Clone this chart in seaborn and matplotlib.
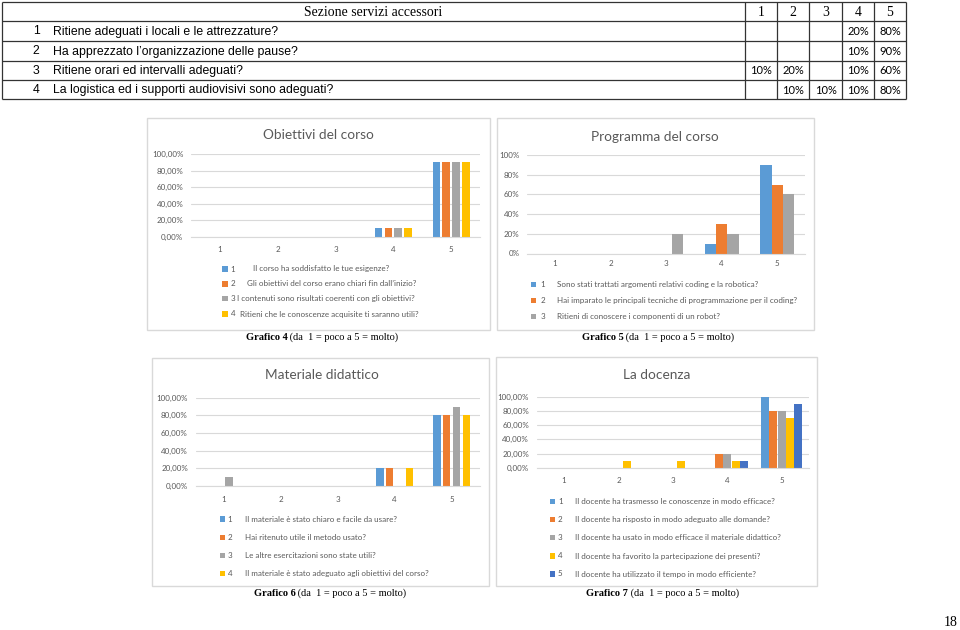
import numpy as np
import pandas as pd
import matplotlib
matplotlib.use("Agg")
import matplotlib.pyplot as plt
from matplotlib.patches import Rectangle
from matplotlib.ticker import FuncFormatter
import seaborn as sns

sns.set_style("white")
plt.rcParams['font.family'] = ['Lato', 'DejaVu Sans']

# ---------------- data ----------------
table_header = "Sezione servizi accessori"
table_cols = ["1", "2", "3", "4", "5"]
table_questions = [
    "Ritiene adeguati i locali e le attrezzature?",
    "Ha apprezzato l’organizzazione delle pause?",
    "Ritiene orari ed intervalli adeguati?",
    "La logistica ed i supporti audiovisivi sono adeguati?",
]
table_values = [
    [None, None, None, 20, 80],
    [None, None, None, 10, 90],
    [10, 20, None, 10, 60],
    [None, 10, 10, 10, 80],
]

categories = ["1", "2", "3", "4", "5"]

obiettivi_title = "Obiettivi del corso"
obiettivi_questions = [
    "Il corso ha soddisfatto le tue esigenze?",
    "Gli obiettivi del corso erano chiari fin dall’inizio?",
    "I contenuti sono risultati coerenti con gli obiettivi?",
    "Ritieni che le conoscenze acquisite ti saranno utili?",
]
obiettivi_values = [
    [0, 0, 0, 0.10, 0.90],
    [0, 0, 0, 0.10, 0.90],
    [0, 0, 0, 0.10, 0.90],
    [0, 0, 0, 0.10, 0.90],
]

programma_title = "Programma del corso"
programma_questions = [
    "Sono stati trattati argomenti relativi coding e la robotica?",
    "Hai imparato le principali tecniche di programmazione per il coding?",
    "Ritieni di conoscere i componenti di un robot?",
]
programma_values = [
    [0, 0, 0, 0.10, 0.90],
    [0, 0, 0, 0.30, 0.70],
    [0, 0, 0.20, 0.20, 0.60],
]

materiale_title = "Materiale didattico"
materiale_questions = [
    "Il materiale è stato chiaro e facile da usare?",
    "Hai ritenuto utile il metodo usato?",
    "Le altre esercitazioni sono state utili?",
    "Il materiale è stato adeguato agli obiettivi del corso?",
]
materiale_values = [
    [0, 0, 0, 0.20, 0.80],
    [0, 0, 0, 0.20, 0.80],
    [0.10, 0, 0, 0, 0.90],
    [0, 0, 0, 0.20, 0.80],
]

docenza_title = "La docenza"
docenza_questions = [
    "Il docente ha trasmesso le conoscenze in modo efficace?",
    "Il docente ha risposto in modo adeguato alle domande?",
    "Il docente ha usato in modo efficace il materiale didattico?",
    "Il docente ha favorito la partecipazione dei presenti?",
    "Il docente ha utilizzato il tempo in modo efficiente?",
]
docenza_values = [
    [0, 0, 0, 0, 1.00],
    [0, 0, 0, 0.20, 0.80],
    [0, 0, 0, 0.20, 0.80],
    [0, 0.10, 0.10, 0.10, 0.70],
    [0, 0, 0, 0.10, 0.90],
]

captions = ["Grafico 4", "Grafico 5", "Grafico 6", "Grafico 7"]
caption_rest = " (da  1 = poco a 5 = molto)"
page_number = "18"

palette = ["#5B9BD5", "#ED7D31", "#A5A5A5", "#FFC000", "#4472C4"]
TXT = "#595959"
GRID = "#D9D9D9"

W, H = 960, 630
fig = plt.figure(figsize=(9.6, 6.3), dpi=100)
fig.patch.set_facecolor("white")

ov = fig.add_axes([0, 0, 1, 1])
ov.set_xlim(0, W)
ov.set_ylim(H, 0)
ov.axis("off")

# ---------------- table ----------------
col_x = [2, 745, 777, 809, 842, 874, 906]
row_y = [2, 21, 41, 61, 80, 99]
lc = "#333333"
for y in row_y:
    ov.plot([col_x[0], col_x[-1]], [y, y], color=lc, lw=0.9, solid_capstyle="butt")
for x in col_x:
    ov.plot([x, x], [row_y[0], row_y[-1]], color=lc, lw=0.9, solid_capstyle="butt")

serif = ["Liberation Serif", "DejaVu Serif"]
sans = ["Liberation Sans", "DejaVu Sans"]
ov.text((col_x[0] + col_x[1]) / 2, (row_y[0] + row_y[1]) / 2 + 0.5, table_header,
        family=serif, fontsize=9.9, ha="center", va="center", color="black")
for j, c in enumerate(table_cols):
    ov.text((col_x[j + 1] + col_x[j + 2]) / 2, (row_y[0] + row_y[1]) / 2 + 0.5, c,
            family=serif, fontsize=9.9, ha="center", va="center", color="black")
for i, q in enumerate(table_questions):
    yc = (row_y[i + 1] + row_y[i + 2]) / 2 + 0.5
    ov.text(36, yc, str(i + 1), family=sans, fontsize=8.8,
            ha="center", va="center", color="black")
    ov.text(53, yc, q, family=sans, fontsize=8.8,
            ha="left", va="center", color="black")
    for j, v in enumerate(table_values[i]):
        if v is not None:
            ov.text((col_x[j + 1] + col_x[j + 2]) / 2, yc, f"{v}%", fontsize=8,
                    ha="center", va="center", color="black")

# ---------------- charts ----------------
def pct2(v, _):
    return f"{v * 100:.2f}%".replace(".", ",")

def pct0(v, _):
    return f"{v * 100:.0f}%"

charts = [
    dict(title=obiettivi_title, qs=obiettivi_questions, vals=obiettivi_values,
         box=(147, 118, 490, 330), ax=(191, 154, 480, 236.5), title_xy=(318, 135),
         width=0.68, gap=0.24, fmt=pct2, xpad=6.5,
         leg_y=[269, 284, 298.5, 314], sq_x=225, num_x=230.5,
         txt_x=[253, 247, 237, 240]),
    dict(title=programma_title, qs=programma_questions, vals=programma_values,
         box=(497, 118, 814, 330), ax=(527, 155, 805, 253.5), title_xy=(655, 137),
         width=0.61, gap=0.0, fmt=pct0, xpad=4.5,
         leg_y=[284.5, 300.5, 316.5], sq_x=533.5, num_x=540.5,
         txt_x=[557, 557, 557]),
    dict(title=materiale_title, qs=materiale_questions, vals=materiale_values,
         box=(152, 358, 489, 586), ax=(195.5, 397.7, 480, 485.7), title_xy=(322, 375),
         width=0.69, gap=0.25, fmt=pct2, xpad=7.5,
         leg_y=[519, 537.5, 555.5, 573.5], sq_x=222.5, num_x=227.5,
         txt_x=[245, 245, 245, 245]),
    dict(title=docenza_title, qs=docenza_questions, vals=docenza_values,
         box=(496, 357, 817, 586), ax=(536.8, 396.7, 808.9, 467.7), title_xy=(657, 375),
         width=0.77, gap=0.05, fmt=pct2, xpad=7,
         leg_y=[501.7, 519.5, 537.7, 556, 574], sq_x=552.5, num_x=558,
         txt_x=[575, 575, 575, 575, 575]),
]

for ch in charts:
    bx0, by0, bx1, by1 = ch["box"]
    ov.add_patch(Rectangle((bx0, by0), bx1 - bx0, by1 - by0, fill=False,
                           edgecolor=GRID, lw=1.0))
    ov.text(ch["title_xy"][0], ch["title_xy"][1], ch["title"], fontsize=9.8,
            fontweight="normal", color=TXT, ha="center", va="center")
    n = len(ch["qs"])
    for k in range(n):
        y = ch["leg_y"][k]
        ov.add_patch(Rectangle((ch["sq_x"] - 2.7, y - 2.7), 5.4, 5.4,
                               facecolor=palette[k], edgecolor="none"))
        ov.text(ch["num_x"], y, str(k + 1), fontsize=5.8, color=TXT,
                ha="left", va="center")
        ov.text(ch["txt_x"][k], y, ch["qs"][k], fontsize=5.8, color=TXT,
                ha="left", va="center")

    rows = []
    for k in range(n):
        for c, v in zip(categories, ch["vals"][k]):
            rows.append({"Valutazione": c, "Domanda": str(k + 1), "Percentuale": v})
    df = pd.DataFrame(rows)

    x0, y0, x1, y1 = ch["ax"]
    ax = fig.add_axes([x0 / W, 1 - y1 / H, (x1 - x0) / W, (y1 - y0) / H])
    ax.set_facecolor("none")
    sns.barplot(data=df, x="Valutazione", y="Percentuale", hue="Domanda",
                order=categories, hue_order=[str(k + 1) for k in range(n)],
                palette=palette[:n], saturation=1, width=ch["width"], gap=ch["gap"],
                errorbar=None, legend=False, linewidth=0, ax=ax)
    ax.set_xlim(-0.5, 4.5)
    ax.set_ylim(0, 1.0)
    ax.set_yticks(np.arange(0, 1.01, 0.2))
    ax.yaxis.set_major_formatter(FuncFormatter(ch["fmt"]))
    ax.grid(axis="y", color=GRID, lw=0.8)
    ax.set_axisbelow(True)
    for s in ["top", "right", "left"]:
        ax.spines[s].set_visible(False)
    ax.spines["bottom"].set_color(GRID)
    ax.spines["bottom"].set_linewidth(0.8)
    ax.tick_params(axis="both", length=0, labelsize=5.8, labelcolor=TXT)
    ax.tick_params(axis="y", pad=5.5)
    ax.tick_params(axis="x", pad=ch["xpad"])
    ax.set_xlabel("")
    ax.set_ylabel("")

# ---------------- captions ----------------
cap_pos = [(322, 337), (658, 337), (330, 593), (663, 593)]
fig.canvas.draw()
renderer = fig.canvas.get_renderer()
for cap, (cx, cy) in zip(captions, cap_pos):
    t1 = ov.text(0, cy, cap, family=serif, fontweight="bold", fontsize=7.5,
                 ha="left", va="center", color="black")
    t2 = ov.text(0, cy, caption_rest, family=serif, fontsize=7.5,
                 ha="left", va="center", color="black")
    w1 = t1.get_window_extent(renderer).width
    w2 = t2.get_window_extent(renderer).width
    start = cx - (w1 + w2) / 2
    t1.set_x(start)
    t2.set_x(start + w1)

ov.text(951, 623, page_number, family=serif, fontsize=10, ha="center", va="center",
        color="black")

fig.savefig("out.png", dpi=100, facecolor="white")
